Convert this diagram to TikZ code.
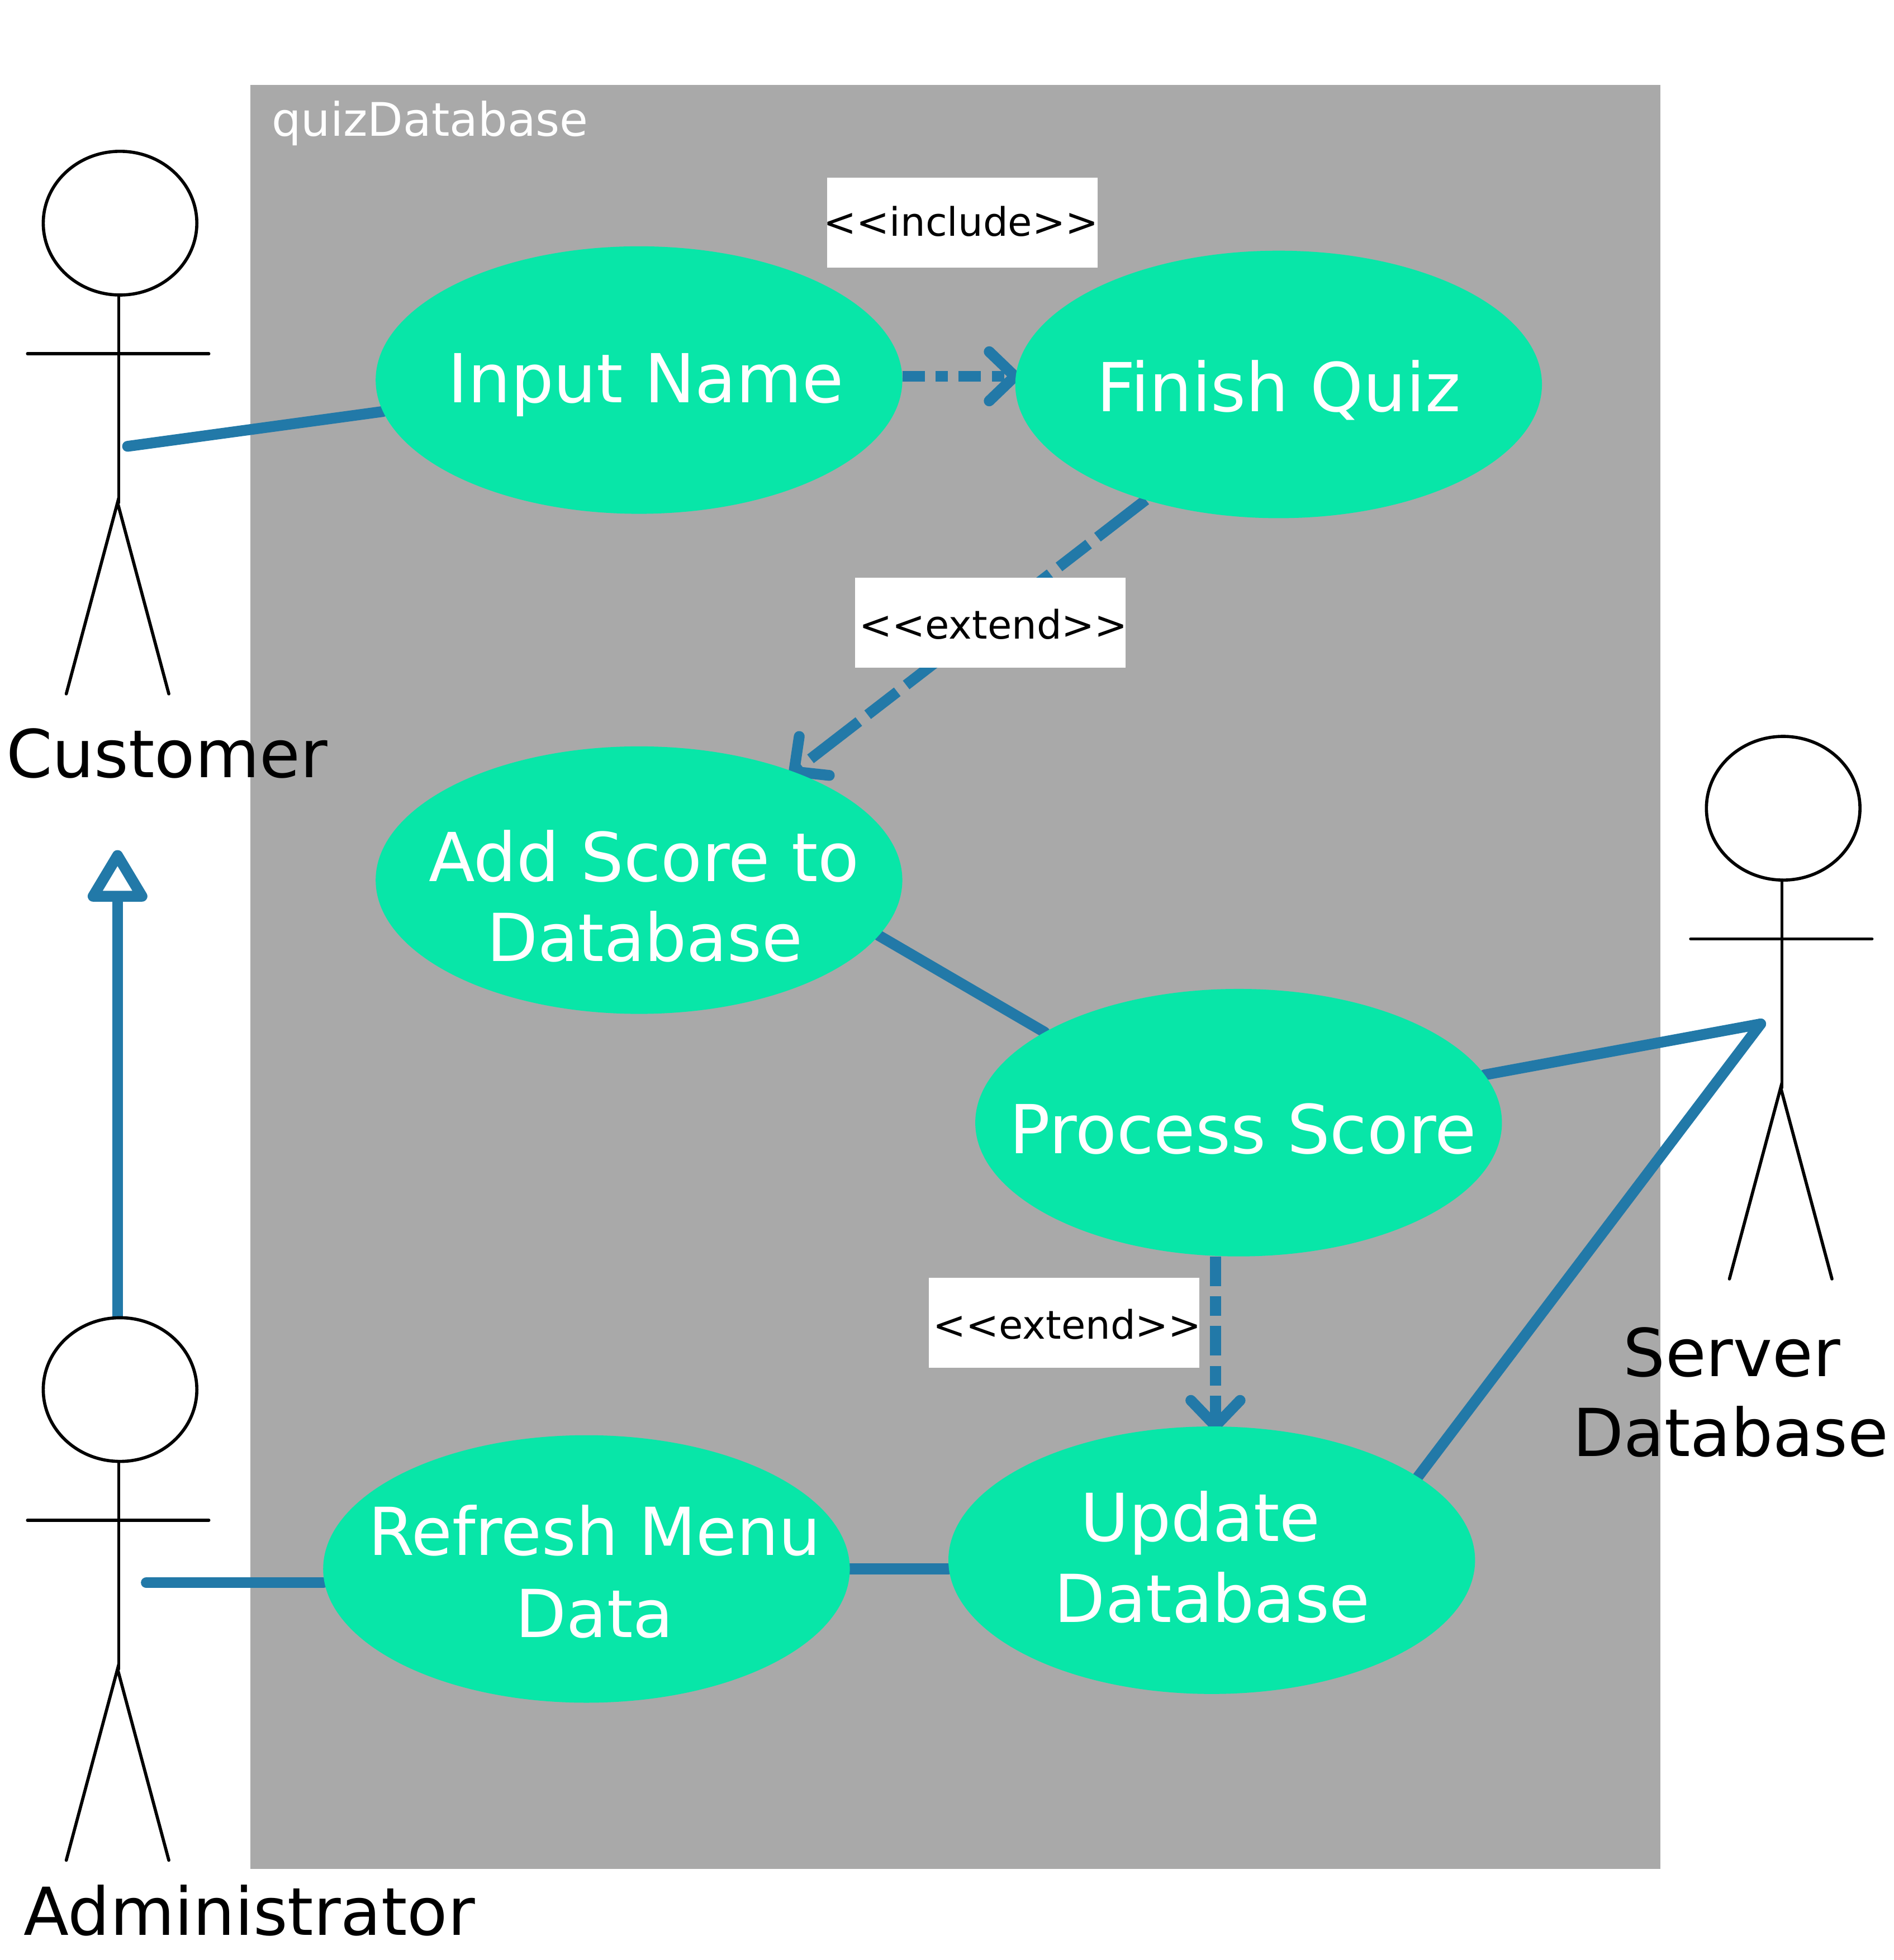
\documentclass[tikz,border=0pt]{standalone}
\usepackage{fontspec}
\setmainfont{DejaVu Sans}
\usetikzlibrary{arrows.meta,shapes.geometric}
\pgfdeclarelayer{back}
\pgfsetlayers{back,main}
\definecolor{sysgray}{HTML}{A9A9A9}
\definecolor{usecase}{HTML}{08E6A8}
\definecolor{linkblue}{HTML}{2279A8}
\tikzset{
  x=0.022325cm,y=-0.022325cm,
  ucsize/.style={ellipse,fill=usecase,inner sep=0pt,outer sep=0pt,minimum width=267.5pt,minimum height=135.9pt},
  uctext/.style={text=white,font=\fontsize{33.6}{40}\selectfont,anchor=base,inner sep=0pt},
  ucwide/.style={uctext,font=\fontsize{34.3}{40}\selectfont},
  actortext/.style={text=black,font=\fontsize{33.6}{40}\selectfont,anchor=base,inner sep=0pt},
  stereo/.style={fill=white,inner sep=0pt,outer sep=0pt,minimum width=137.5pt,minimum height=45.7pt},
  stereotext/.style={text=black,font=\fontsize{20}{24}\selectfont,anchor=base,inner sep=0pt},
  head/.style={ellipse,draw=black,fill=white,line width=1.6pt,inner sep=0pt,outer sep=0pt,minimum width=78pt,minimum height=73pt},
  limb/.style={draw=black,line width=1.6pt,line cap=round},
  link/.style={draw=linkblue,line width=5.5pt,line cap=round},
  opentip/.style={shorten >=-2.5pt,-{Straight Barb[round,length=13pt,width=25pt,line width=5.5pt]}},
  dashA/.style={line cap=butt,dash pattern=on 11.4pt off 5.5pt on 6.2pt off 5.5pt},
  dashB/.style={line cap=butt,dash pattern=on 31pt off 5.7pt on 19pt off 5.7pt},
  dashC/.style={line cap=butt,dash pattern=on 15pt off 5.2pt on 10pt off 5.2pt},
}
\newcommand{\actorfig}[3]{%
  \begin{scope}[shift={(#2,#3)}]
    \node[head] (#1head) at (96,178.5) {};
    \coordinate (#1hip) at (95,402);
    \coordinate (#1armL) at (22,283);
    \coordinate (#1armR) at (167,283);
    \coordinate (#1legL) at (53,555);
    \coordinate (#1legR) at (135,555);
    \draw[limb] (#1head.south -| #1hip) -- (#1hip);
    \draw[limb] (#1armL) -- (#1armR);
    \draw[limb] (#1legL) -- (94,402) -- (#1legR);
  \end{scope}}
\begin{document}
\begin{tikzpicture}
\useasboundingbox (0,0) rectangle (1514.6,1567.8);
\begin{pgfonlayer}{back}
  \fill[sysgray] (200,68) rectangle (1328,1495);
\end{pgfonlayer}
\node[text=white,font=\fontsize{23.5}{28}\selectfont,anchor=base west,inner sep=0pt] (sysname) at (217,109) {quizDatabase};

% use cases
\node[ucsize] (input)   at (511,304)    {};
\node[ucsize] (finish)  at (1022.5,307.5) {};
\node[ucsize] (addscore) at (511,704)   {};
\node[ucsize] (process) at (990.5,898)  {};
\node[ucsize] (update)  at (969,1248)   {};
\node[ucsize] (refresh) at (469,1255)   {};

\node[ucwide] (inputT) at (516.5,322) {Input Name};
\node[ucwide] (finishT) at (1022.5,329) {Finish Quiz};
\node[ucwide] (addA) at (515,705) {Add Score to};
\node[uctext] (addB) at (515.5,769) {Database};
\node[ucwide] (processT) at (994,922.5) {Process Score};
\node[uctext] (updateA) at (960,1233) {Update};
\node[uctext] (updateB) at (969.5,1297.5) {Database};
\node[uctext] (refreshA) at (475.5,1244) {Refresh Menu};
\node[uctext] (refreshB) at (475.5,1309.5) {Data};

% actors
\actorfig{cust}{0}{0}
\actorfig{admin}{0}{933}
\actorfig{server}{1330}{468}
\node[actortext] (custT) at (133.5,622) {Customer};
\node[actortext] (adminT) at (199.5,1548) {Administrator};
\node[actortext] (serverA) at (1385,1101) {Server};
\node[actortext] (serverB) at (1384,1165) {Database};

% hands and free ends
\coordinate (custHand) at (102,357);
\coordinate (adminHand) at (117,1266);
\coordinate (serverHand) at (1408,819);
\coordinate (custFoot) at (94,680);

% stereotype labels
\node[stereo] (incl) at (769.5,178) {};
\node[stereotext] (inclT) at (768.5,189) {{<}{<}include{>}{>}};
\node[stereo] (ext1) at (792,498) {};
\node[stereotext] (ext1T) at (794.5,511) {{<}{<}extend{>}{>}};
\node[stereo] (ext2) at (851,1058) {};
\node[stereotext] (ext2T) at (853.5,1071) {{<}{<}extend{>}{>}};

% connectors, beneath the nodes
\begin{pgfonlayer}{back}
  \draw[link] (custHand) -- (input.187);
  \draw[link] (adminHand) -- (refresh.west |- adminHand);
  \draw[link] (refresh.east) -- (update.west |- refresh.east);
  \draw[link] (addscore.-13.5) -- (process.155.5);
  \draw[link] (process.11.6) -- (serverHand);
  \draw[link,line join=round] (update.22) -- (serverHand);
  \draw[link,dashA,opentip] (input.east |- 0,301) -- (finish.west |- 0,301);
  \draw[link,dashB,opentip] (finish.221.5) -- (addscore.35);
  \draw[link,dashC,opentip] (process.south -| 972,0) -- (update.north -| 972,0);
  \draw[link,-{Triangle[open,round,fill=white,length=29pt,width=33pt,line width=5.5pt]}] (adminhead.north -| custFoot) -- (custFoot);
\end{pgfonlayer}
\end{tikzpicture}
\end{document}
